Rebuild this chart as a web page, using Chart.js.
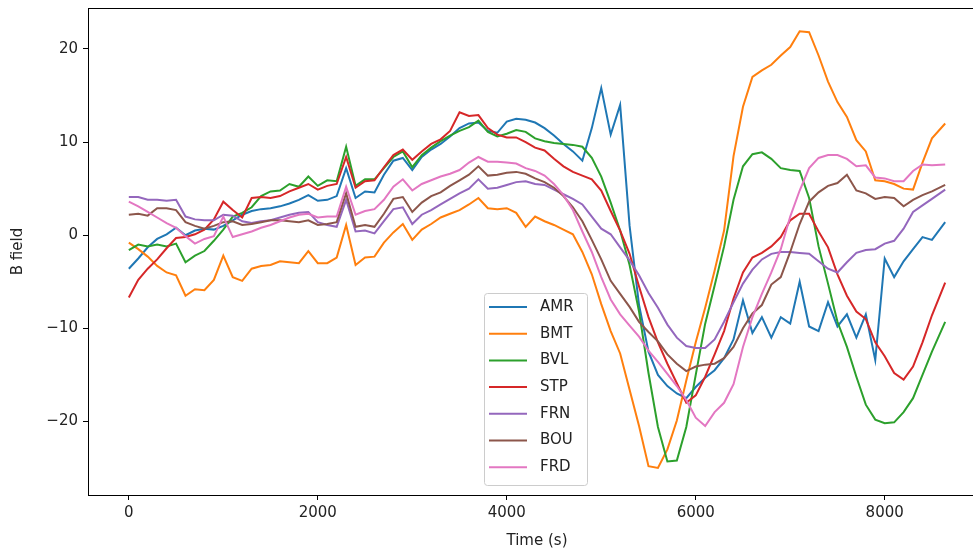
<!DOCTYPE html>
<html>
<head>
<meta charset="utf-8">
<script src="https://cdn.jsdelivr.net/npm/chart.js@4/dist/chart.umd.min.js"></script>
<style>
  html, body { margin: 0; padding: 0; background: #fff; overflow: hidden; }
  #wrap { width: 1000px; height: 554px; }
</style>
</head>
<body>
<div id="wrap"><canvas id="bfield" width="1000" height="554"></canvas></div>
<script>
// sample times (s)
const times = [
  0, 100, 200, 300, 400, 500, 600, 700, 800, 900,
  1000, 1100, 1200, 1300, 1400, 1500, 1600, 1700, 1800, 1900,
  2000, 2100, 2200, 2300, 2400, 2500, 2600, 2700, 2800, 2900,
  3000, 3100, 3200, 3300, 3400, 3500, 3600, 3700, 3800, 3900,
  4000, 4100, 4200, 4300, 4400, 4500, 4600, 4700, 4800, 4900,
  5000, 5100, 5200, 5300, 5400, 5500, 5600, 5700, 5800, 5900,
  6000, 6100, 6200, 6300, 6400, 6500, 6600, 6700, 6800, 6900,
  7000, 7100, 7200, 7300, 7400, 7500, 7600, 7700, 7800, 7900,
  8000, 8100, 8200, 8300, 8400, 8500, 8640
];

const amr = [
  -3.6, -2.5, -1.3, -0.4, 0.1, 0.8, 0.0, 0.5, 0.7, 0.6,
  1.0, 1.6, 2.2, 2.6, 2.8, 2.9, 3.1, 3.4, 3.8, 4.3,
  3.7, 3.8, 4.2, 7.2, 4.0, 4.7, 4.6, 6.5, 8.0, 8.3,
  7.0, 8.4, 9.2, 9.8, 10.6, 11.5, 12.0, 12.1, 11.2, 11.0,
  12.2, 12.5, 12.4, 12.1, 11.5, 10.7, 9.8, 9.0, 8.0, 11.5,
  15.8, 10.8, 14.0, 1.0, -7.5, -12.5, -15.0, -16.2, -17.0, -17.5,
  -16.3, -15.3, -14.5, -13.2, -11.2, -7.0, -10.5, -8.8, -11.0, -8.8,
  -9.5, -5.0, -9.8, -10.3, -7.2, -9.8, -8.5, -11.0, -8.5, -13.4,
  -2.5, -4.5, -2.8, -1.5, -0.2, -0.5, 1.4
];

const bmt = [
  -0.8, -1.5, -2.3, -3.3, -4.0, -4.3, -6.5, -5.8, -5.9, -4.8,
  -2.2, -4.5, -4.9, -3.6, -3.3, -3.2, -2.8, -2.9, -3.0, -1.7,
  -3.0, -3.0, -2.4, 1.1, -3.2, -2.4, -2.3, -0.8, 0.3, 1.2,
  -0.5, 0.6, 1.2, 1.9, 2.3, 2.7, 3.3, 4.0, 2.9, 2.8,
  2.9, 2.4, 0.9, 2.0, 1.5, 1.1, 0.6, 0.1, -1.8, -4.2,
  -7.4, -10.3, -12.7, -16.6, -20.5, -24.8, -25.0, -23.0, -19.9, -15.6,
  -11.5, -7.8, -3.8, 0.5, 8.5, 13.8, 17.0, 17.7, 18.3, 19.3,
  20.2, 21.9, 21.8, 19.3, 16.5, 14.3, 12.7, 10.2, 9.0, 5.9,
  5.8, 5.5, 5.0, 4.9, 7.8, 10.4, 12.0
];

const bvl = [
  -1.6, -1.0, -1.2, -1.0, -1.2, -0.9, -2.9, -2.2, -1.7, -0.6,
  0.6, 2.0, 2.4, 3.0, 4.2, 4.7, 4.8, 5.5, 5.2, 6.3,
  5.3, 5.9, 5.8, 9.5, 5.3, 6.0, 6.0, 7.2, 8.4, 9.0,
  7.3, 8.6, 9.4, 10.1, 10.7, 11.2, 11.6, 12.3, 11.1, 10.6,
  10.9, 11.3, 11.1, 10.4, 10.1, 9.9, 9.8, 9.7, 9.5, 8.3,
  6.3, 3.5, 0.5, -3.2, -8.2, -14.8, -20.6, -24.3, -24.2, -20.6,
  -15.0, -9.5, -5.4, -1.2, 3.8, 7.4, 8.7, 8.9, 8.2, 7.2,
  7.0, 6.9, 4.0, -1.2, -5.2, -9.3, -12.0, -15.2, -18.2, -19.8,
  -20.2, -20.1, -19.0, -17.5, -15.0, -12.5, -9.3
];

const stp = [
  -6.7, -4.8, -3.6, -2.6, -1.4, -0.3, -0.2, 0.1, 0.6, 1.7,
  3.6, 2.7, 1.9, 4.0, 4.1, 4.0, 4.2, 4.7, 5.1, 5.5,
  4.9, 5.3, 5.5, 8.4, 5.1, 5.8, 5.9, 7.3, 8.6, 9.2,
  8.1, 9.0, 9.8, 10.3, 11.2, 13.2, 12.8, 12.9, 11.5, 10.8,
  10.5, 10.5, 10.0, 9.4, 9.1, 8.2, 7.4, 6.8, 6.4, 6.0,
  4.8, 2.6, 0.5, -2.0, -5.5, -8.8, -11.5, -13.8, -15.9, -18.0,
  -17.2, -15.2, -12.8, -10.3, -6.8, -4.0, -2.4, -1.9, -1.2, -0.2,
  1.6, 2.3, 2.3, 0.4, -1.3, -4.2, -6.5, -8.2, -9.0, -11.5,
  -13.0, -14.8, -15.5, -14.1, -11.5, -8.6, -5.1
];

const frn = [
  4.1, 4.1, 3.8, 3.8, 3.7, 3.8, 2.0, 1.7, 1.6, 1.6,
  2.2, 2.1, 1.5, 1.3, 1.5, 1.6, 1.9, 2.2, 2.4, 2.5,
  1.4, 1.1, 0.9, 3.8, 0.4, 0.5, 0.2, 1.5, 2.8, 3.0,
  1.2, 2.2, 2.7, 3.3, 3.9, 4.5, 5.0, 6.0, 5.0, 5.1,
  5.4, 5.7, 5.8, 5.5, 5.4, 4.9, 4.4, 3.9, 3.3, 2.0,
  0.7, 0.1, -1.3, -2.7, -4.3, -6.2, -7.8, -9.6, -11.0, -11.9,
  -12.1, -12.1, -11.2, -9.3, -7.2, -5.2, -3.7, -2.6, -2.0, -1.8,
  -1.8, -1.9, -2.0, -2.8, -3.6, -4.0, -2.9, -1.9, -1.6, -1.5,
  -0.9, -0.6, 0.7, 2.5, 3.2, 3.9, 4.9
];

const bou = [
  2.2, 2.3, 2.1, 2.9, 2.9, 2.7, 1.4, 1.0, 0.7, 1.0,
  1.4, 1.5, 1.1, 1.2, 1.4, 1.6, 1.6, 1.5, 1.4, 1.6,
  1.1, 1.2, 1.4, 4.5, 0.9, 1.1, 0.9, 2.3, 3.9, 4.1,
  2.5, 3.5, 4.2, 4.6, 5.3, 5.9, 6.5, 7.4, 6.4, 6.5,
  6.7, 6.8, 6.6, 6.1, 5.7, 5.1, 4.2, 3.0, 1.5, -0.5,
  -2.6, -4.9, -6.3, -7.7, -9.3, -10.4, -11.4, -12.8, -13.8, -14.6,
  -14.1, -13.9, -13.8, -13.2, -12.0, -10.0, -8.4, -7.5, -5.3, -4.5,
  -1.8, 1.2, 3.6, 4.6, 5.3, 5.6, 6.5, 4.8, 4.5, 3.9,
  4.1, 4.0, 3.1, 3.8, 4.3, 4.7, 5.4
];

const frd = [
  3.6, 3.1, 2.5, 1.9, 1.3, 0.8, -0.1, -0.9, -0.4, -0.1,
  2.0, -0.2, 0.1, 0.4, 0.8, 1.1, 1.5, 1.9, 2.2, 2.3,
  1.9, 2.0, 2.0, 5.2, 2.2, 2.6, 2.8, 3.8, 5.2, 6.0,
  4.8, 5.5, 5.9, 6.3, 6.6, 7.0, 7.8, 8.4, 7.9, 7.9,
  7.8, 7.7, 7.2, 6.9, 6.4, 5.5, 4.3, 2.7, 0.4, -1.8,
  -4.5, -6.9, -8.5, -9.7, -10.9, -12.4, -13.6, -14.9, -16.2, -17.7,
  -19.6, -20.5, -19.0, -18.0, -16.0, -12.0, -8.8, -6.3, -4.0, -1.5,
  2.0, 4.8, 7.2, 8.3, 8.6, 8.6, 8.2, 7.4, 7.5, 6.2,
  6.1, 5.8, 5.8, 6.9, 7.6, 7.5, 7.6
];

const stations = ["AMR", "BMT", "BVL", "STP", "FRN", "BOU", "FRD"];
const series = [amr, bmt, bvl, stp, frn, bou, frd];
const colors = ["#1f77b4", "#ff7f0e", "#2ca02c", "#d62728", "#9467bd", "#8c564b", "#e377c2"];

const xTicks = [0, 2000, 4000, 6000, 8000];
const yTicks = [-20, -10, 0, 10, 20];

const FONT = "'DejaVu Sans', sans-serif";
const FSIZE = 15;
const TXT = "#222";

function minusLabel(v) {
  return v < 0 ? "\u2212" + Math.abs(v) : String(v);
}

// last station on top, like the plotting order
const datasets = stations.map((name, i) => ({
  label: name,
  data: times.map((t, k) => ({ x: t, y: series[i][k] })),
  borderColor: colors[i],
  backgroundColor: colors[i],
  borderWidth: 2,
  pointRadius: 0,
  tension: 0,
  order: stations.length - i
}));

// box around the plot area
const frame = {
  id: "frame",
  afterDraw(chart) {
    const a = chart.chartArea, ctx = chart.ctx;
    ctx.save();
    ctx.strokeStyle = "#000";
    ctx.lineWidth = 1;
    ctx.strokeRect(a.left + 0.5, a.top + 0.5, a.right - a.left, a.bottom - a.top);
    ctx.restore();
  }
};

// legend box drawn inside the axes, lower middle
const legendBox = {
  id: "legendBox",
  afterDraw(chart) {
    const ctx = chart.ctx;
    const bx = 484, by = 293, bw = 103, bh = 192;
    ctx.save();
    ctx.beginPath();
    ctx.roundRect(bx + 0.5, by + 0.5, bw, bh, 3);
    ctx.fillStyle = "rgba(255,255,255,0.8)";
    ctx.fill();
    ctx.strokeStyle = "#cccccc";
    ctx.lineWidth = 1;
    ctx.stroke();
    ctx.font = FSIZE + "px " + FONT;
    ctx.textBaseline = "middle";
    ctx.fillStyle = TXT;
    chart.data.datasets.forEach((ds, i) => {
      const y = by + 14 + i * 26.7;
      ctx.strokeStyle = ds.borderColor;
      ctx.lineWidth = 2;
      ctx.beginPath();
      ctx.moveTo(bx + 5, y);
      ctx.lineTo(bx + 43, y);
      ctx.stroke();
      ctx.fillText(ds.label, bx + 56, y);
    });
    ctx.restore();
  }
};

new Chart(document.getElementById("bfield"), {
  type: "line",
  data: { datasets: datasets },
  options: {
    responsive: false,
    animation: false,
    devicePixelRatio: 1,
    layout: { padding: { top: 8, right: 14, left: 0, bottom: 0 } },
    plugins: { legend: { display: false }, tooltip: { enabled: false } },
    scales: {
      x: {
        type: "linear",
        min: -432,
        max: 9072,
        afterBuildTicks: (s) => { s.ticks = xTicks.map(v => ({ value: v })); },
        afterFit: (s) => { s.height = 59; s.paddingLeft = 0; s.paddingRight = 0; },
        ticks: { color: TXT, font: { family: FONT, size: FSIZE }, padding: 4, maxRotation: 0, callback: minusLabel },
        grid: { drawOnChartArea: false, tickLength: 5, color: "#000" },
        border: { display: true, color: "#000" },
        title: { display: true, text: "Time (s)", color: TXT, font: { family: FONT, size: FSIZE }, padding: { top: 0, bottom: 4 } }
      },
      y: {
        type: "linear",
        min: -27.9,
        max: 24.4,
        afterBuildTicks: (s) => { s.ticks = yTicks.map(v => ({ value: v })); },
        afterFit: (s) => { s.width = 88; s.paddingTop = 0; s.paddingBottom = 0; },
        ticks: { color: TXT, font: { family: FONT, size: FSIZE }, padding: 5, callback: minusLabel },
        grid: { drawOnChartArea: false, tickLength: 5, color: "#000" },
        border: { display: true, color: "#000" },
        title: { display: true, text: "B field", color: TXT, font: { family: FONT, size: FSIZE }, padding: { top: 9, bottom: 0 } }
      }
    }
  },
  plugins: [frame, legendBox]
});
</script>
</body>
</html>
